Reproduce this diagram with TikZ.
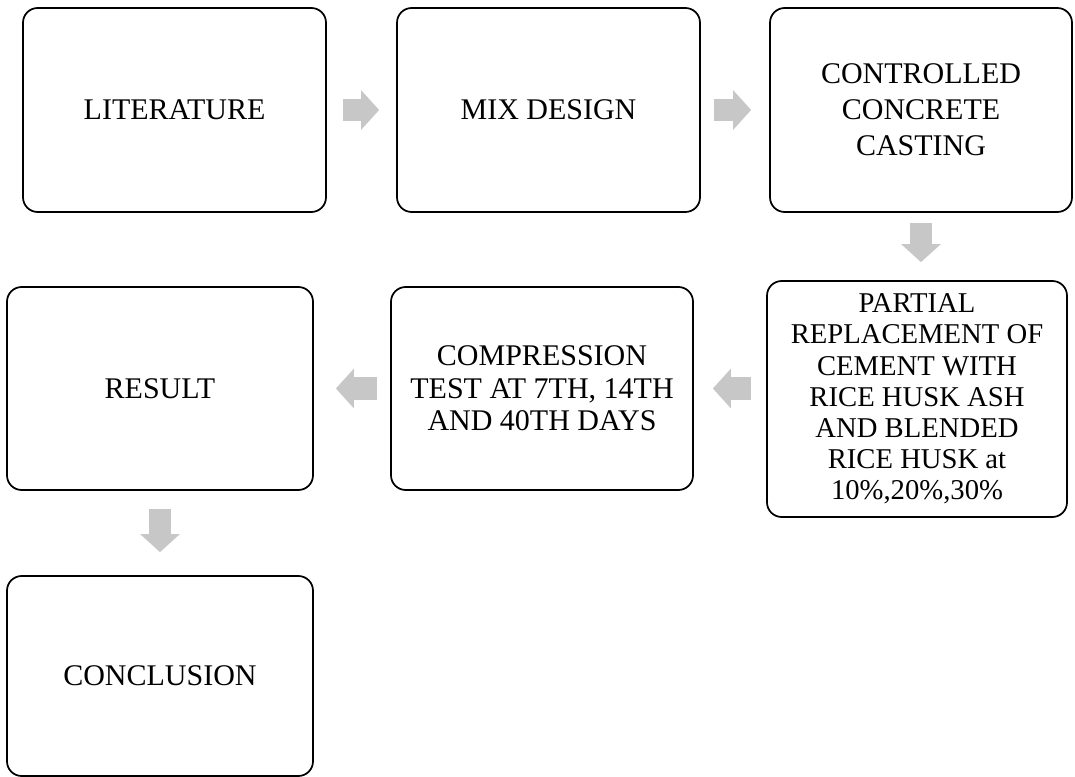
\documentclass[tikz,border=0pt]{standalone}
\usepackage{fontspec}
\setmainfont{Liberation Serif}
\usetikzlibrary{arrows.meta}
\newdimen\pxu \pxu=0.75pt
\tikzset{
  stepbox/.style={draw, rounded corners=11pt, line width=1.3pt, inner sep=0pt,
    align=center, font=\fontsize{22.5pt}{27pt}\selectfont},
  flowarrow/.style={draw=black!22, line width=17pt,
    -{Triangle[length=13.5pt,width=29pt]}},
}
\begin{document}
\begin{tikzpicture}[x=0.75pt,y=-0.75pt]
\useasboundingbox (0,0) rectangle (1075,777);
  % top row
  \node[stepbox, minimum width=303\pxu, minimum height=204\pxu] (lit) at (174.5,110) {LITERATURE};
  \node[stepbox, minimum width=303\pxu, minimum height=204\pxu] (mix) at (548.5,110) {MIX DESIGN};
  \node[stepbox, minimum width=302\pxu, minimum height=204\pxu] (ctrl) at (921,110)
    {CONTROLLED\\CONCRETE\\CASTING};
  % middle row
  \node[stepbox, minimum width=300\pxu, minimum height=236\pxu,
    font=\fontsize{21.5pt}{23.4pt}\selectfont] (part) at (917,399)
    {PARTIAL\\REPLACEMENT OF\\CEMENT WITH\\RICE HUSK ASH\\AND BLENDED\\RICE HUSK at\\10\%,20\%,30\%};
  \node[stepbox, minimum width=302\pxu, minimum height=203\pxu,
    font=\fontsize{22.5pt}{24.5pt}\selectfont] (comp) at (542,388.5)
    {COMPRESSION\\TEST AT 7TH, 14TH\\AND 40TH DAYS};
  \node[stepbox, minimum width=306\pxu, minimum height=203\pxu] (res) at (160,388.5) {RESULT};
  % bottom
  \node[stepbox, minimum width=306\pxu, minimum height=200\pxu] (concl) at (160,676) {CONCLUSION};
  % arrows
  \draw[flowarrow, shorten <=12pt, shorten >=12.75pt] (lit) -- (mix);
  \draw[flowarrow, shorten <=9.75pt, shorten >=13.5pt] (mix) -- (ctrl);
  \draw[flowarrow, shorten <=7.5pt, shorten >=13.5pt] (ctrl.south) -- (ctrl.south |- part.north);
  \draw[flowarrow, shorten <=11.25pt, shorten >=14.25pt] (part.west |- comp.east) -- (comp.east);
  \draw[flowarrow, shorten <=9.75pt, shorten >=16.5pt] (comp.west) -- (res.east);
  \draw[flowarrow, shorten <=13.5pt, shorten >=17.25pt] (res.south) -- (concl.north);
\end{tikzpicture}
\end{document}
